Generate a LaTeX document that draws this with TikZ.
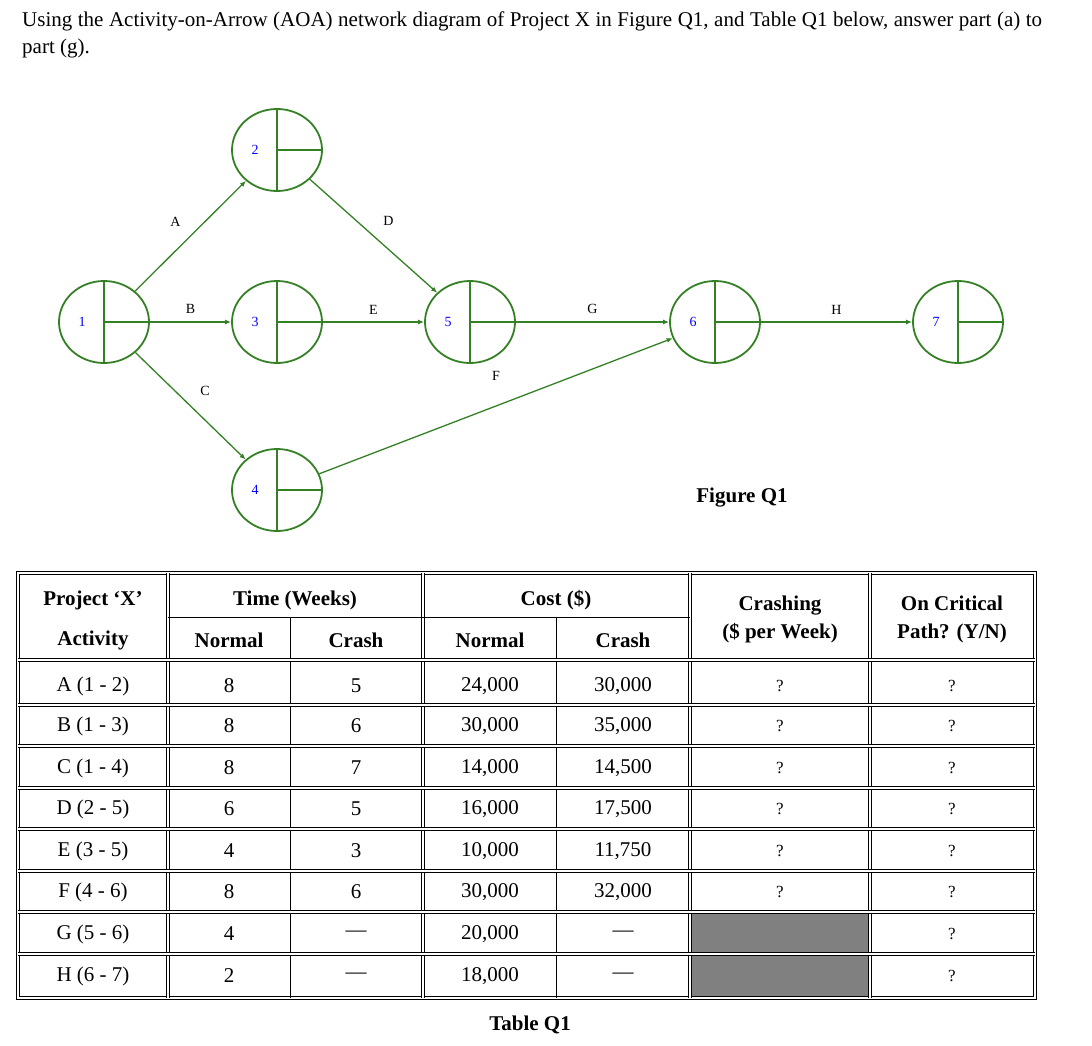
\documentclass[tikz,border=0pt]{standalone}
\usepackage{fontspec}
\setmainfont{Liberation Serif}
\usetikzlibrary{arrows.meta, shapes.geometric}
\definecolor{netgreen}{RGB}{52,128,36}
\definecolor{cellgray}{RGB}{128,128,128}
\tikzset{
	event/.style={draw=netgreen, line width=1.8pt, ellipse, minimum width=90pt, minimum height=82pt, inner sep=0pt},
	act/.style={draw=netgreen, line width=1.3pt, -{Latex[length=6pt,width=5pt]}},
	actlabel/.style={font=\fontsize{14}{16}\selectfont},
	dbl/.style={double, double distance=1.6pt, line width=0.9pt},
	cell/.style={font=\fontsize{21}{24}\selectfont},
	headcell/.style={font=\fontsize{21}{24}\selectfont\bfseries, align=center}
}
\begin{document}
\begin{tikzpicture}[x=1pt, y=-1pt]
	\useasboundingbox (0,0) rectangle (1092,1046);
	% question text
	\node (q) [anchor=north west, text width=1020pt, align=justify, inner sep=0pt, font=\fontsize{21}{27}\selectfont] at (22,12)
		{Using the Activity-on-Arrow (AOA) network diagram of Project X in Figure Q1, and Table Q1 below, answer part (a) to part (g).};
	% events
	\foreach \n/\x/\y in {1/104/322, 2/277/150, 3/277/322, 4/277/490, 5/470/322, 6/715/322, 7/958/322} {
		\node (e\n) [event] at (\x,\y) {};
		\draw [netgreen, line width=1.8pt] (e\n.north) -- (e\n.south) (e\n.center) -- (e\n.east);
		\node (n\n) [blue, font=\fontsize{14}{16}\selectfont] at (\x-22,\y) {\n};
	}
	% activities
	\draw [act] (e1) -- (e2) node (lA) [actlabel, midway, above left=6pt] {A};
	\draw [act] (e1) -- (e3) node (lB) [actlabel, midway, above=4pt] {B};
	\draw [act] (e1) -- (e4) node (lC) [actlabel, midway, above right=6pt] {C};
	\draw [act] (e2) -- (e5) node (lD) [actlabel, midway, above right=6pt] {D};
	\draw [act] (e3) -- (e5) node (lE) [actlabel, midway, above=4pt] {E};
	\draw [act] (e4) -- (e6) node (lF) [actlabel, midway, above=22pt] {F};
	\draw [act] (e5) -- (e6) node (lG) [actlabel, midway, above=4pt] {G};
	\draw [act] (e6) -- (e7) node (lH) [actlabel, midway, above=4pt] {H};
	\node (figcap) [font=\fontsize{21}{24}\selectfont\bfseries] at (742,498) {Figure Q1};
	% table
	\fill [cellgray] (692,914) rectangle (868,952) (692,956) rectangle (868,996);
	\draw [dbl] (18,573) rectangle (1035,998);
	\foreach \x in {168,423,690,870} \draw [dbl] (\x,573) -- (\x,998);
	\draw [line width=1pt] (168,617) -- (690,617) (290,617) -- (290,998) (556,617) -- (556,998);
	\foreach \y in {660,705,746,788,829,871,912,954} \draw [dbl] (18,\y) -- (1035,\y);
	\node (h1) [headcell] at (93,600) {Project ‘X’};
	\node (h2) [headcell] at (93,640) {Activity};
	\node (h3) [headcell] at (295,600) {Time (Weeks)};
	\node (h4) [headcell] at (229,640) {Normal};
	\node (h5) [headcell] at (356,640) {Crash};
	\node (h6) [headcell] at (556,600) {Cost (\$)};
	\node (h7) [headcell] at (490,640) {Normal};
	\node (h8) [headcell] at (623,640) {Crash};
	\node (h9) [headcell, font=\fontsize{21}{28}\selectfont\bfseries] at (780,619) {Crashing\\(\$ per Week)};
	\node (h10) [headcell, font=\fontsize{21}{28}\selectfont\bfseries] at (952,619) {On Critical\\Path? (Y/N)};
	\foreach \r/\act/\tn/\tc/\cn/\cc/\cw [count=\i] in {
		686/A (1 - 2)/8/5/{24,000}/{30,000}/?,
		726/B (1 - 3)/8/6/{30,000}/{35,000}/?,
		768/C (1 - 4)/8/7/{14,000}/{14,500}/?,
		809/D (2 - 5)/6/5/{16,000}/{17,500}/?,
		851/E (3 - 5)/4/3/{10,000}/{11,750}/?,
		892/F (4 - 6)/8/6/{30,000}/{32,000}/?,
		934/G (5 - 6)/4/---/{20,000}/---/{},
		976/H (6 - 7)/2/---/{18,000}/---/{}} {
		\node (ra\i) [cell] at (93,\r) {\act};
		\node (rb\i) [cell] at (229,\r) {\tn};
		\node (rc\i) [cell] at (356,\r) {\tc};
		\node (rd\i) [cell] at (490,\r) {\cn};
		\node (re\i) [cell] at (623,\r) {\cc};
		\node (rf\i) [cell, font=\fontsize{17}{20}\selectfont] at (780,\r) {\cw};
		\node (rg\i) [cell, font=\fontsize{17}{20}\selectfont] at (952,\r) {?};
	}
	\node (tabcap) [font=\fontsize{21}{24}\selectfont\bfseries] at (530,1025) {Table Q1};
\end{tikzpicture}
\end{document}
